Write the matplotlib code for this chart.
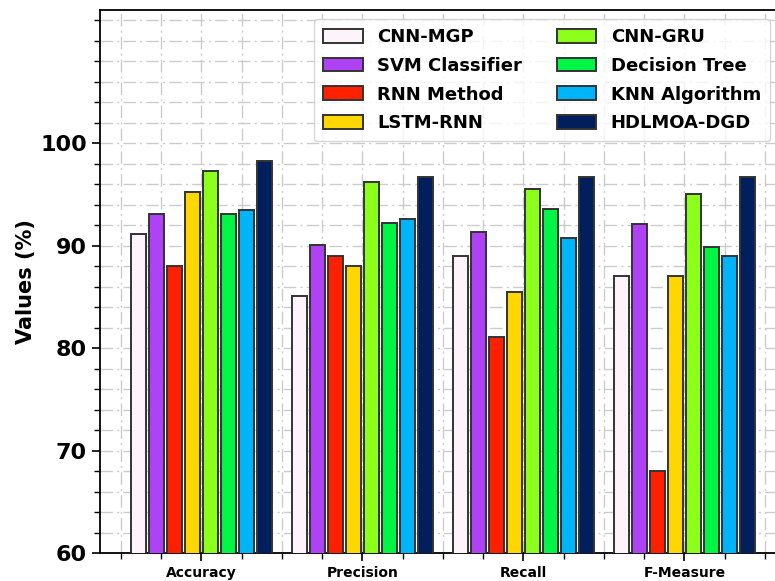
import numpy as np
import matplotlib
matplotlib.use("Agg")
import matplotlib.pyplot as plt
from matplotlib.ticker import MultipleLocator

metrics = ["Accuracy", "Precision", "Recall", "F-Measure"]
models = ["CNN-MGP", "SVM Classifier", "RNN Method", "LSTM-RNN",
          "CNN-GRU", "Decision Tree", "KNN Algorithm", "HDLMOA-DGD"]

cnn_mgp = [91.1, 85.1, 89.0, 87.0]
svm = [93.1, 90.1, 91.3, 92.1]
rnn = [88.0, 89.0, 81.1, 68.0]
lstm_rnn = [95.2, 88.0, 85.5, 87.0]
cnn_gru = [97.3, 96.2, 95.5, 95.0]
dtree = [93.1, 92.2, 93.6, 89.9]
knn = [93.5, 92.6, 90.7, 89.0]
hdlmoa = [98.3, 96.7, 96.7, 96.7]

series = [cnn_mgp, svm, rnn, lstm_rnn, cnn_gru, dtree, knn, hdlmoa]
colors = ["#fdf4fb", "#b042f5", "#ff2000", "#ffd700",
          "#8cff1a", "#00f545", "#00b4fa", "#001f5c"]

fig = plt.figure(figsize=(7.75, 5.81), dpi=100)
ax = fig.add_axes([0.129, 0.048, 0.885, 0.935])

x = np.arange(len(metrics))
pitch = 0.112
w = 0.09
for i, (vals, c, name) in enumerate(zip(series, colors, models)):
    ax.bar(x + (i - 3.5) * pitch, vals, width=w, color=c,
           edgecolor="#333333", linewidth=1.4, label=name, zorder=3)

ax.set_ylim(60, 113)
ax.set_xlim(-0.63, 3.63)
ax.set_yticks([60, 70, 80, 90, 100])
ax.yaxis.set_minor_locator(MultipleLocator(2))
ax.set_xticks(x)
ax.set_xticklabels(metrics, fontsize=10, fontweight="bold")
ax.xaxis.set_minor_locator(MultipleLocator(0.25))
for lab in ax.get_yticklabels():
    lab.set_fontsize(16)
    lab.set_fontweight("bold")
ax.tick_params(axis="both", which="major", length=6, width=1.2)
ax.tick_params(axis="both", which="minor", length=4, width=1)
ax.set_ylabel("Values (%)", fontsize=15, fontweight="bold", labelpad=3)

ax.grid(True, which="both", linestyle=(0, (9, 3, 1.5, 3)), color="#cccccc",
        linewidth=1, zorder=0)
ax.set_axisbelow(True)
for s in ax.spines.values():
    s.set_linewidth(1.3)

ax.legend(loc="upper right", ncol=2, prop={"weight": "bold", "size": 13},
          handlelength=2.2, handleheight=0.8, handletextpad=0.8,
          columnspacing=1.9, labelspacing=0.6, borderpad=0.5,
          bbox_to_anchor=(0.99, 1.0))

fig.savefig("out.png", dpi=100)
